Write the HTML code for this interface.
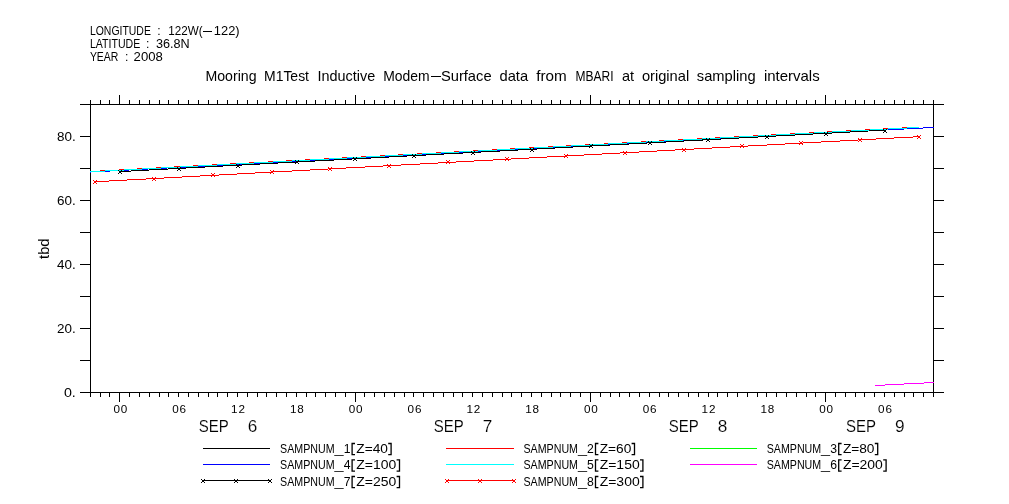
<!DOCTYPE html><html><head><meta charset="utf-8"><title>plot</title><style>html,body{margin:0;padding:0;background:#fff}svg{display:block;will-change:transform}text{font-family:"Liberation Sans",sans-serif;fill:#000}.th{stroke:#fff;stroke-width:0.15px}</style></head><body>
<svg width="1009" height="504" viewBox="0 0 1009 504">
<rect width="1009" height="504" fill="#fff"/>
<text x="89.9" y="34.8" font-size="12.2" textLength="61.0" lengthAdjust="spacingAndGlyphs">LONGITUDE</text>
<text x="168.3" y="34.8" font-size="12.2" textLength="34.3" lengthAdjust="spacingAndGlyphs">122W(</text>
<text x="213.8" y="34.8" font-size="12.2" textLength="25.8" lengthAdjust="spacingAndGlyphs">122)</text>
<text x="89.9" y="47.8" font-size="12.2" textLength="50.3" lengthAdjust="spacingAndGlyphs">LATITUDE</text>
<text x="155.9" y="47.8" font-size="12.2" textLength="33.7" lengthAdjust="spacingAndGlyphs">36.8N</text>
<text x="89.9" y="60.8" font-size="12.2" textLength="28.5" lengthAdjust="spacingAndGlyphs">YEAR</text>
<text x="133.6" y="60.8" font-size="12.2" textLength="29.2" lengthAdjust="spacingAndGlyphs">2008</text>
<text x="159" y="34.8" font-size="12.2" text-anchor="middle">:</text>
<text x="147.8" y="47.8" font-size="12.2" text-anchor="middle">:</text>
<text x="126.7" y="60.8" font-size="12.2" text-anchor="middle">:</text>
<text x="205.5" y="81" font-size="13.9" textLength="51.0" lengthAdjust="spacingAndGlyphs">Mooring</text>
<text x="264.0" y="81" font-size="13.9" textLength="45.0" lengthAdjust="spacingAndGlyphs">M1Test</text>
<text x="317.5" y="81" font-size="13.9" textLength="57.7" lengthAdjust="spacingAndGlyphs">Inductive</text>
<text x="383.2" y="81" font-size="13.9" textLength="46.4" lengthAdjust="spacingAndGlyphs">Modem</text>
<text x="440.9" y="81" font-size="13.9" textLength="50.7" lengthAdjust="spacingAndGlyphs">Surface</text>
<text x="499.5" y="81" font-size="13.9" textLength="28.6" lengthAdjust="spacingAndGlyphs">data</text>
<text x="536.2" y="81" font-size="13.9" textLength="30.5" lengthAdjust="spacingAndGlyphs">from</text>
<text x="575.5" y="81" font-size="13.9" textLength="38.0" lengthAdjust="spacingAndGlyphs">MBARI</text>
<text x="622.0" y="81" font-size="13.9" textLength="12.1" lengthAdjust="spacingAndGlyphs">at</text>
<text x="641.9" y="81" font-size="13.9" textLength="47.3" lengthAdjust="spacingAndGlyphs">original</text>
<text x="696.8" y="81" font-size="13.9" textLength="58.8" lengthAdjust="spacingAndGlyphs">sampling</text>
<text x="763.9" y="81" font-size="13.9" textLength="55.8" lengthAdjust="spacingAndGlyphs">intervals</text>
<path d="M203.4 31.5H211.7M430.5 76.5H440.6" stroke="#000" stroke-width="1" shape-rendering="crispEdges"/>
<g stroke="#000" stroke-width="1" fill="none" shape-rendering="crispEdges">
<path d="M90.5 104.5V392.5M933.5 104.5V392.5M80 104.5H944M80 392.5H944"/>
<path d="M80 360.5H90.5M933.5 360.5H944M80 328.5H90.5M933.5 328.5H944M80 296.5H90.5M933.5 296.5H944M80 264.5H90.5M933.5 264.5H944M80 232.5H90.5M933.5 232.5H944M80 200.5H90.5M933.5 200.5H944M80 168.5H90.5M933.5 168.5H944M80 136.5H90.5M933.5 136.5H944"/>
<path d="M90.5 104.5V100.0M90.5 392.5V397.0M100.5 104.5V100.0M100.5 392.5V397.0M109.5 104.5V100.0M109.5 392.5V397.0M119.5 104.5V95.0M119.5 392.5V402.0M129.5 104.5V100.0M129.5 392.5V397.0M139.5 104.5V100.0M139.5 392.5V397.0M149.5 104.5V100.0M149.5 392.5V397.0M159.5 104.5V100.0M159.5 392.5V397.0M168.5 104.5V100.0M168.5 392.5V397.0M178.5 104.5V100.0M178.5 392.5V397.0M188.5 104.5V100.0M188.5 392.5V397.0M198.5 104.5V100.0M198.5 392.5V397.0M208.5 104.5V100.0M208.5 392.5V397.0M217.5 104.5V100.0M217.5 392.5V397.0M227.5 104.5V100.0M227.5 392.5V397.0M237.5 104.5V100.0M237.5 392.5V397.0M247.5 104.5V100.0M247.5 392.5V397.0M257.5 104.5V100.0M257.5 392.5V397.0M266.5 104.5V100.0M266.5 392.5V397.0M276.5 104.5V100.0M276.5 392.5V397.0M286.5 104.5V100.0M286.5 392.5V397.0M296.5 104.5V100.0M296.5 392.5V397.0M306.5 104.5V100.0M306.5 392.5V397.0M315.5 104.5V100.0M315.5 392.5V397.0M325.5 104.5V100.0M325.5 392.5V397.0M335.5 104.5V100.0M335.5 392.5V397.0M345.5 104.5V100.0M345.5 392.5V397.0M355.5 104.5V95.0M355.5 392.5V402.0M364.5 104.5V100.0M364.5 392.5V397.0M374.5 104.5V100.0M374.5 392.5V397.0M384.5 104.5V100.0M384.5 392.5V397.0M394.5 104.5V100.0M394.5 392.5V397.0M404.5 104.5V100.0M404.5 392.5V397.0M413.5 104.5V100.0M413.5 392.5V397.0M423.5 104.5V100.0M423.5 392.5V397.0M433.5 104.5V100.0M433.5 392.5V397.0M443.5 104.5V100.0M443.5 392.5V397.0M453.5 104.5V100.0M453.5 392.5V397.0M462.5 104.5V100.0M462.5 392.5V397.0M472.5 104.5V100.0M472.5 392.5V397.0M482.5 104.5V100.0M482.5 392.5V397.0M492.5 104.5V100.0M492.5 392.5V397.0M502.5 104.5V100.0M502.5 392.5V397.0M511.5 104.5V100.0M511.5 392.5V397.0M521.5 104.5V100.0M521.5 392.5V397.0M531.5 104.5V100.0M531.5 392.5V397.0M541.5 104.5V100.0M541.5 392.5V397.0M551.5 104.5V100.0M551.5 392.5V397.0M560.5 104.5V100.0M560.5 392.5V397.0M570.5 104.5V100.0M570.5 392.5V397.0M580.5 104.5V100.0M580.5 392.5V397.0M590.5 104.5V95.0M590.5 392.5V402.0M600.5 104.5V100.0M600.5 392.5V397.0M610.5 104.5V100.0M610.5 392.5V397.0M619.5 104.5V100.0M619.5 392.5V397.0M629.5 104.5V100.0M629.5 392.5V397.0M639.5 104.5V100.0M639.5 392.5V397.0M649.5 104.5V100.0M649.5 392.5V397.0M659.5 104.5V100.0M659.5 392.5V397.0M668.5 104.5V100.0M668.5 392.5V397.0M678.5 104.5V100.0M678.5 392.5V397.0M688.5 104.5V100.0M688.5 392.5V397.0M698.5 104.5V100.0M698.5 392.5V397.0M708.5 104.5V100.0M708.5 392.5V397.0M717.5 104.5V100.0M717.5 392.5V397.0M727.5 104.5V100.0M727.5 392.5V397.0M737.5 104.5V100.0M737.5 392.5V397.0M747.5 104.5V100.0M747.5 392.5V397.0M757.5 104.5V100.0M757.5 392.5V397.0M766.5 104.5V100.0M766.5 392.5V397.0M776.5 104.5V100.0M776.5 392.5V397.0M786.5 104.5V100.0M786.5 392.5V397.0M796.5 104.5V100.0M796.5 392.5V397.0M806.5 104.5V100.0M806.5 392.5V397.0M815.5 104.5V100.0M815.5 392.5V397.0M825.5 104.5V95.0M825.5 392.5V402.0M835.5 104.5V100.0M835.5 392.5V397.0M845.5 104.5V100.0M845.5 392.5V397.0M855.5 104.5V100.0M855.5 392.5V397.0M864.5 104.5V100.0M864.5 392.5V397.0M874.5 104.5V100.0M874.5 392.5V397.0M884.5 104.5V100.0M884.5 392.5V397.0M894.5 104.5V100.0M894.5 392.5V397.0M904.5 104.5V100.0M904.5 392.5V397.0M913.5 104.5V100.0M913.5 392.5V397.0M923.5 104.5V100.0M923.5 392.5V397.0M933.5 104.5V100.0M933.5 392.5V397.0"/>
</g>
<text x="63.9" y="396.7" font-size="12.2" textLength="11.9" lengthAdjust="spacingAndGlyphs">0.</text>
<text x="57.1" y="332.7" font-size="12.2" textLength="18.7" lengthAdjust="spacingAndGlyphs">20.</text>
<text x="57.1" y="268.7" font-size="12.2" textLength="18.7" lengthAdjust="spacingAndGlyphs">40.</text>
<text x="57.1" y="204.7" font-size="12.2" textLength="18.7" lengthAdjust="spacingAndGlyphs">60.</text>
<text x="57.1" y="140.7" font-size="12.2" textLength="18.7" lengthAdjust="spacingAndGlyphs">80.</text>
<text x="120.4" y="412.8" font-size="11.7" text-anchor="middle" textLength="13.8" lengthAdjust="spacing">00</text>
<text x="179.2" y="412.8" font-size="11.7" text-anchor="middle" textLength="13.8" lengthAdjust="spacing">06</text>
<text x="238.0" y="412.8" font-size="11.7" text-anchor="middle" textLength="13.8" lengthAdjust="spacing">12</text>
<text x="296.8" y="412.8" font-size="11.7" text-anchor="middle" textLength="13.8" lengthAdjust="spacing">18</text>
<text x="355.7" y="412.8" font-size="11.7" text-anchor="middle" textLength="13.8" lengthAdjust="spacing">00</text>
<text x="414.5" y="412.8" font-size="11.7" text-anchor="middle" textLength="13.8" lengthAdjust="spacing">06</text>
<text x="473.3" y="412.8" font-size="11.7" text-anchor="middle" textLength="13.8" lengthAdjust="spacing">12</text>
<text x="532.1" y="412.8" font-size="11.7" text-anchor="middle" textLength="13.8" lengthAdjust="spacing">18</text>
<text x="590.9" y="412.8" font-size="11.7" text-anchor="middle" textLength="13.8" lengthAdjust="spacing">00</text>
<text x="649.7" y="412.8" font-size="11.7" text-anchor="middle" textLength="13.8" lengthAdjust="spacing">06</text>
<text x="708.5" y="412.8" font-size="11.7" text-anchor="middle" textLength="13.8" lengthAdjust="spacing">12</text>
<text x="767.4" y="412.8" font-size="11.7" text-anchor="middle" textLength="13.8" lengthAdjust="spacing">18</text>
<text x="826.2" y="412.8" font-size="11.7" text-anchor="middle" textLength="13.8" lengthAdjust="spacing">00</text>
<text x="885.0" y="412.8" font-size="11.7" text-anchor="middle" textLength="13.8" lengthAdjust="spacing">06</text>
<text class="th" x="198.75" y="432.3" font-size="17.2" textLength="30" lengthAdjust="spacingAndGlyphs">SEP</text>
<text class="th" x="252.55" y="432.3" font-size="17.2" text-anchor="middle">6</text>
<text class="th" x="433.75" y="432.3" font-size="17.2" textLength="30" lengthAdjust="spacingAndGlyphs">SEP</text>
<text class="th" x="487.55" y="432.3" font-size="17.2" text-anchor="middle">7</text>
<text class="th" x="668.75" y="432.3" font-size="17.2" textLength="30" lengthAdjust="spacingAndGlyphs">SEP</text>
<text class="th" x="722.55" y="432.3" font-size="17.2" text-anchor="middle">8</text>
<text class="th" x="845.9" y="432.3" font-size="17.2" textLength="30" lengthAdjust="spacingAndGlyphs">SEP</text>
<text class="th" x="899.6999999999999" y="432.3" font-size="17.2" text-anchor="middle">9</text>
<text transform="translate(49,258.9) rotate(-90)" font-size="14.2" textLength="20.4" lengthAdjust="spacingAndGlyphs">tbd</text>
<g stroke-width="1" fill="none" shape-rendering="crispEdges">
<path d="M90 171.54L908 127.68" stroke="#f00" stroke-width="1"/>
<path d="M90 172.06L934 127.45" stroke="#00f" stroke-width="1"/>
<path d="M90 171.81L919 127.36" stroke="#0ff" stroke-width="1"/>
<path d="M875 385.5H885M885 384.5H904M904 383.5H924M924 382.5H934" stroke="#f0f"/>
<path d="M120 171.6L885 130.11" stroke="#000" stroke-width="1"/>
<path d="M95 181.78L919 136.66" stroke="#f00" stroke-width="1"/>
</g>
<path d="M118 170h1v1h-1zM121 170h1v1h-1zM119 171h2v2h-2zM118 173h1v1h-1zM121 173h1v1h-1zM177 167h1v1h-1zM180 167h1v1h-1zM178 168h2v2h-2zM177 170h1v1h-1zM180 170h1v1h-1zM236 164h1v1h-1zM239 164h1v1h-1zM237 165h2v2h-2zM236 167h1v1h-1zM239 167h1v1h-1zM295 160h1v1h-1zM298 160h1v1h-1zM296 161h2v2h-2zM295 163h1v1h-1zM298 163h1v1h-1zM353 157h1v1h-1zM356 157h1v1h-1zM354 158h2v2h-2zM353 160h1v1h-1zM356 160h1v1h-1zM412 154h1v1h-1zM415 154h1v1h-1zM413 155h2v2h-2zM412 157h1v1h-1zM415 157h1v1h-1zM471 151h1v1h-1zM474 151h1v1h-1zM472 152h2v2h-2zM471 154h1v1h-1zM474 154h1v1h-1zM530 148h1v1h-1zM533 148h1v1h-1zM531 149h2v2h-2zM530 151h1v1h-1zM533 151h1v1h-1zM589 144h1v1h-1zM592 144h1v1h-1zM590 145h2v2h-2zM589 147h1v1h-1zM592 147h1v1h-1zM648 141h1v1h-1zM651 141h1v1h-1zM649 142h2v2h-2zM648 144h1v1h-1zM651 144h1v1h-1zM706 138h1v1h-1zM709 138h1v1h-1zM707 139h2v2h-2zM706 141h1v1h-1zM709 141h1v1h-1zM765 135h1v1h-1zM768 135h1v1h-1zM766 136h2v2h-2zM765 138h1v1h-1zM768 138h1v1h-1zM824 132h1v1h-1zM827 132h1v1h-1zM825 133h2v2h-2zM824 135h1v1h-1zM827 135h1v1h-1zM883 129h1v1h-1zM886 129h1v1h-1zM884 130h2v2h-2zM883 132h1v1h-1zM886 132h1v1h-1z" fill="#000" shape-rendering="crispEdges"/>
<path d="M93 180h1v1h-1zM96 180h1v1h-1zM94 181h2v2h-2zM93 183h1v1h-1zM96 183h1v1h-1zM152 177h1v1h-1zM155 177h1v1h-1zM153 178h2v2h-2zM152 180h1v1h-1zM155 180h1v1h-1zM211 173h1v1h-1zM214 173h1v1h-1zM212 174h2v2h-2zM211 176h1v1h-1zM214 176h1v1h-1zM270 170h1v1h-1zM273 170h1v1h-1zM271 171h2v2h-2zM270 173h1v1h-1zM273 173h1v1h-1zM328 167h1v1h-1zM331 167h1v1h-1zM329 168h2v2h-2zM328 170h1v1h-1zM331 170h1v1h-1zM387 164h1v1h-1zM390 164h1v1h-1zM388 165h2v2h-2zM387 167h1v1h-1zM390 167h1v1h-1zM446 160h1v1h-1zM449 160h1v1h-1zM447 161h2v2h-2zM446 163h1v1h-1zM449 163h1v1h-1zM505 157h1v1h-1zM508 157h1v1h-1zM506 158h2v2h-2zM505 160h1v1h-1zM508 160h1v1h-1zM564 154h1v1h-1zM567 154h1v1h-1zM565 155h2v2h-2zM564 157h1v1h-1zM567 157h1v1h-1zM623 151h1v1h-1zM626 151h1v1h-1zM624 152h2v2h-2zM623 154h1v1h-1zM626 154h1v1h-1zM682 148h1v1h-1zM685 148h1v1h-1zM683 149h2v2h-2zM682 151h1v1h-1zM685 151h1v1h-1zM740 144h1v1h-1zM743 144h1v1h-1zM741 145h2v2h-2zM740 147h1v1h-1zM743 147h1v1h-1zM799 141h1v1h-1zM802 141h1v1h-1zM800 142h2v2h-2zM799 144h1v1h-1zM802 144h1v1h-1zM858 138h1v1h-1zM861 138h1v1h-1zM859 139h2v2h-2zM858 141h1v1h-1zM861 141h1v1h-1zM917 135h1v1h-1zM920 135h1v1h-1zM918 136h2v2h-2zM917 138h1v1h-1zM920 138h1v1h-1z" fill="#f00" shape-rendering="crispEdges"/>
<path d="M203 448.5H270" stroke="#000" stroke-width="1" shape-rendering="crispEdges"/>
<text x="280.1" y="452.6" font-size="12.2" textLength="54.5" lengthAdjust="spacingAndGlyphs">SAMPNUM</text>
<text x="334.5" y="452.6" font-size="12.2" textLength="9.0" lengthAdjust="spacingAndGlyphs">_</text>
<text x="347.1" y="452.6" font-size="12.2" text-anchor="middle">1</text>
<text x="356.3" y="452.6" font-size="12.2" textLength="31.6" lengthAdjust="spacingAndGlyphs">Z=40</text>
<path d="M355.0 443.5H352.1V454.70000000000005H355.0M388.20000000000005 443.5H391.1V454.70000000000005H388.20000000000005" stroke="#000" stroke-width="1.3" fill="none"/>
<path d="M446 448.5H514" stroke="#f00" stroke-width="1" shape-rendering="crispEdges"/>
<text x="523.5" y="452.6" font-size="12.2" textLength="54.5" lengthAdjust="spacingAndGlyphs">SAMPNUM</text>
<text x="577.9" y="452.6" font-size="12.2" textLength="9.0" lengthAdjust="spacingAndGlyphs">_</text>
<text x="590.5" y="452.6" font-size="12.2" text-anchor="middle">2</text>
<text x="599.7" y="452.6" font-size="12.2" textLength="31.6" lengthAdjust="spacingAndGlyphs">Z=60</text>
<path d="M598.4 443.5H595.5V454.70000000000005H598.4M631.6 443.5H634.5V454.70000000000005H631.6" stroke="#000" stroke-width="1.3" fill="none"/>
<path d="M690 448.5H757" stroke="#0f0" stroke-width="1" shape-rendering="crispEdges"/>
<text x="766.7" y="452.6" font-size="12.2" textLength="54.5" lengthAdjust="spacingAndGlyphs">SAMPNUM</text>
<text x="821.1" y="452.6" font-size="12.2" textLength="9.0" lengthAdjust="spacingAndGlyphs">_</text>
<text x="833.7" y="452.6" font-size="12.2" text-anchor="middle">3</text>
<text x="842.9" y="452.6" font-size="12.2" textLength="31.6" lengthAdjust="spacingAndGlyphs">Z=80</text>
<path d="M841.6 443.5H838.7V454.70000000000005H841.6M874.8000000000001 443.5H877.7V454.70000000000005H874.8000000000001" stroke="#000" stroke-width="1.3" fill="none"/>
<path d="M203 464.5H270" stroke="#00f" stroke-width="1" shape-rendering="crispEdges"/>
<text x="280.1" y="469.0" font-size="12.2" textLength="54.5" lengthAdjust="spacingAndGlyphs">SAMPNUM</text>
<text x="334.5" y="469.0" font-size="12.2" textLength="9.0" lengthAdjust="spacingAndGlyphs">_</text>
<text x="347.1" y="469.0" font-size="12.2" text-anchor="middle">4</text>
<text x="356.3" y="469.0" font-size="12.2" textLength="40.0" lengthAdjust="spacingAndGlyphs">Z=100</text>
<path d="M355.0 459.9H352.1V471.1H355.0M396.6 459.9H399.5V471.1H396.6" stroke="#000" stroke-width="1.3" fill="none"/>
<path d="M446 464.5H514" stroke="#0ff" stroke-width="1" shape-rendering="crispEdges"/>
<text x="523.5" y="469.0" font-size="12.2" textLength="54.5" lengthAdjust="spacingAndGlyphs">SAMPNUM</text>
<text x="577.9" y="469.0" font-size="12.2" textLength="9.0" lengthAdjust="spacingAndGlyphs">_</text>
<text x="590.5" y="469.0" font-size="12.2" text-anchor="middle">5</text>
<text x="599.7" y="469.0" font-size="12.2" textLength="40.0" lengthAdjust="spacingAndGlyphs">Z=150</text>
<path d="M598.4 459.9H595.5V471.1H598.4M640.0 459.9H642.9V471.1H640.0" stroke="#000" stroke-width="1.3" fill="none"/>
<path d="M690 464.5H757" stroke="#f0f" stroke-width="1" shape-rendering="crispEdges"/>
<text x="766.7" y="469.0" font-size="12.2" textLength="54.5" lengthAdjust="spacingAndGlyphs">SAMPNUM</text>
<text x="821.1" y="469.0" font-size="12.2" textLength="9.0" lengthAdjust="spacingAndGlyphs">_</text>
<text x="833.7" y="469.0" font-size="12.2" text-anchor="middle">6</text>
<text x="842.9" y="469.0" font-size="12.2" textLength="40.0" lengthAdjust="spacingAndGlyphs">Z=200</text>
<path d="M841.6 459.9H838.7V471.1H841.6M883.2 459.9H886.1V471.1H883.2" stroke="#000" stroke-width="1.3" fill="none"/>
<path d="M203 480.5H270" stroke="#000" stroke-width="1" shape-rendering="crispEdges"/>
<path d="M201 479h1v1h-1zM204 479h1v1h-1zM202 480h2v2h-2zM201 482h1v1h-1zM204 482h1v1h-1zM234 479h1v1h-1zM237 479h1v1h-1zM235 480h2v2h-2zM234 482h1v1h-1zM237 482h1v1h-1zM268 479h1v1h-1zM271 479h1v1h-1zM269 480h2v2h-2zM268 482h1v1h-1zM271 482h1v1h-1z" fill="#000" shape-rendering="crispEdges"/>
<text x="280.1" y="485.6" font-size="12.2" textLength="54.5" lengthAdjust="spacingAndGlyphs">SAMPNUM</text>
<text x="334.5" y="485.6" font-size="12.2" textLength="9.0" lengthAdjust="spacingAndGlyphs">_</text>
<text x="347.1" y="485.6" font-size="12.2" text-anchor="middle">7</text>
<text x="356.3" y="485.6" font-size="12.2" textLength="40.0" lengthAdjust="spacingAndGlyphs">Z=250</text>
<path d="M355.0 476.5H352.1V487.70000000000005H355.0M396.6 476.5H399.5V487.70000000000005H396.6" stroke="#000" stroke-width="1.3" fill="none"/>
<path d="M446 480.5H514" stroke="#f00" stroke-width="1" shape-rendering="crispEdges"/>
<path d="M445 479h1v1h-1zM448 479h1v1h-1zM446 480h2v2h-2zM445 482h1v1h-1zM448 482h1v1h-1zM478 479h1v1h-1zM481 479h1v1h-1zM479 480h2v2h-2zM478 482h1v1h-1zM481 482h1v1h-1zM512 479h1v1h-1zM515 479h1v1h-1zM513 480h2v2h-2zM512 482h1v1h-1zM515 482h1v1h-1z" fill="#f00" shape-rendering="crispEdges"/>
<text x="523.5" y="485.6" font-size="12.2" textLength="54.5" lengthAdjust="spacingAndGlyphs">SAMPNUM</text>
<text x="577.9" y="485.6" font-size="12.2" textLength="9.0" lengthAdjust="spacingAndGlyphs">_</text>
<text x="590.5" y="485.6" font-size="12.2" text-anchor="middle">8</text>
<text x="599.7" y="485.6" font-size="12.2" textLength="40.0" lengthAdjust="spacingAndGlyphs">Z=300</text>
<path d="M598.4 476.5H595.5V487.70000000000005H598.4M640.0 476.5H642.9V487.70000000000005H640.0" stroke="#000" stroke-width="1.3" fill="none"/>
</svg></body></html>
